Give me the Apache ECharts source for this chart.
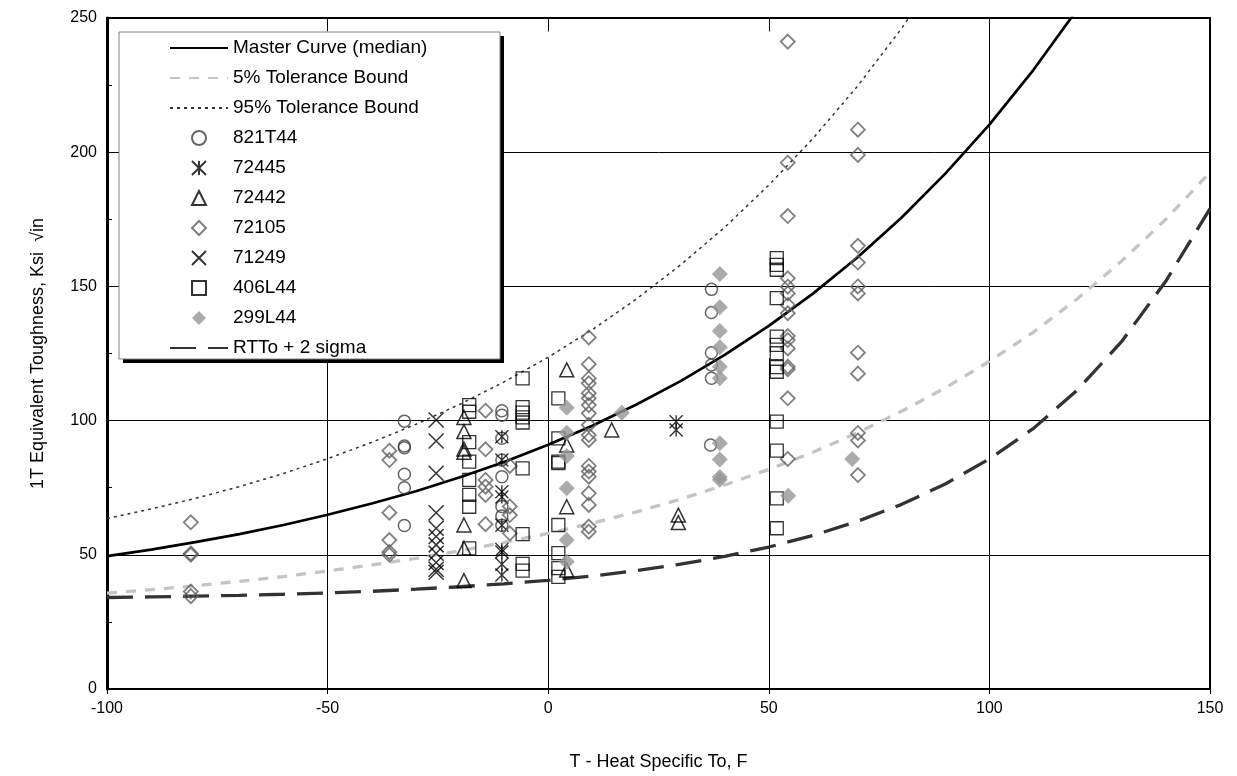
<!DOCTYPE html>
<html><head><meta charset="utf-8">
<script src="https://cdn.jsdelivr.net/npm/echarts@6/dist/echarts.min.js"></script>
<style>html,body{margin:0;padding:0;background:#fff}#c{width:1237px;height:776px}</style>
</head><body><div id="c"></div>
<script>
// ---- tick labels / axes ----
const xTicks = [-100, -50, 0, 50, 100, 150];
const yTicks = [0, 50, 100, 150, 200, 250];
// vertical grid lines: partly hidden ones (visible lower part + top stub) and a full-height one
const vGridPartialX = [-50, 0, 50];
const vGridFullX = [100];
const vGridTop = 123.3;

// ---- curves ----
const curveT = [-100,-90,-80,-70,-60,-50,-40,-30,-20,-10,0,10,20,30,40,50,60,70,80,90,100,110,120,130,140,150];
const masterK = [49.5,51.9,54.7,57.7,61.1,64.9,69.1,73.7,78.9,84.6,91.0,98.1,106.0,114.7,124.5,135.3,147.3,160.7,175.5,192.0,210.3,230.7,253.4];
const tol5K = [35.7,37.0,38.5,40.1,41.9,44.0,46.2,48.7,51.5,54.6,58.0,61.8,66.0,70.7,76.0,81.8,88.2,95.4,103.4,112.2,122.1,133.0,145.5,159.5,175.0,192.5];
const tol95K = [63.5,67.1,71.0,75.4,80.3,85.8,91.9,98.6,106.1,114.4,123.6,133.9,145.3,158.0,172.0,187.7,205.1,224.4,245.9,269.8];
const rtK = [34.1,34.3,34.6,34.9,35.3,35.8,36.4,37.2,38.1,39.2,40.5,42.1,44.1,46.5,49.4,52.9,57.2,62.4,68.7,76.4,85.7,97.1,111.5,129.5,152.0,179.0];

// ---- data sets [T, K] ----
const d821T44 = [
  [-32.6,99.8],[-32.6,90.5],[-32.6,89.9],[-32.6,80],[-32.6,75],[-32.6,60.9],
  [-10.5,103.7],[-10.5,102],[-10.5,93.4],[-10.5,85.3],[-10.5,79.1],[-10.5,68],[-10.5,64.5],[-10.5,61],
  [37,148.9],[37,140.3],[37,125.3],[37,120.7],[37,115.8],[36.8,90.9]
];
const d72445 = [
  [-10.5,94],[-10.5,85.3],[-10.5,73.5],[-10.5,71.5],[-10.5,61],[-10.5,52],[-10.5,51],[-10.5,46.5],[-10.5,42.5],
  [29,99.6],[29,96.5]
];
const d72442 = [
  [-19.1,101.2],[-19.1,95.9],[-19.1,89.4],[-19.1,88.2],[-19.1,61.1],[-19.1,52.4],[-19.1,40.4],
  [4.2,118.9],[4.2,90.9],[4.2,67.9],[4.2,44.3],
  [14.4,96.5],[29.5,64.8],[29.5,62]
];
const d72105 = [
  [-81,62.1],[-81,50.5],[-81,50],[-81,36.3],[-81,34.6],
  [-36,88.8],[-36,85.3],[-36,65.7],[-36,55.5],[-36,51],[-36,50],
  [-14.2,103.7],[-14.2,89.3],[-14.2,77.9],[-14.2,75.4],[-14.2,72.3],[-14.2,61.4],
  [-8.7,83.1],[-8.7,68],[-8.7,64.8],[-8.7,58],
  [9.2,131],[9.2,121],[9.2,115.7],[9.2,113.9],[9.2,110.2],[9.2,108.3],[9.2,105.8],[9.2,102.7],[9.2,98.4],
  [9.2,94.6],[9.2,92.8],[9.2,83.1],[9.2,81],[9.2,79.1],[9.2,72.9],[9.2,68.6],[9.2,60.5],[9.2,58.6],
  [54.3,241.2],[54.3,196.1],[54.3,176.2],[54.3,153],[54.3,149.9],[54.3,147.4],[54.3,143.1],[54.3,140],
  [54.3,131.5],[54.3,130],[54.3,126.9],[54.3,120.1],[54.3,119.1],[54.3,108.3],[54.3,85.7],
  [70.2,208.4],[70.2,199],[70.2,165.1],[70.2,158.9],[70.2,150],[70.2,147.4],[70.2,125.3],[70.2,117.5],
  [70.2,95.4],[70.2,92.6],[70.2,79.7]
];
const d71249 = [
  [-25.4,100.2],[-25.4,92.4],[-25.4,80.4],[-25.4,65.7],[-25.4,59.9],[-25.4,56.8],[-25.4,53.7],
  [-25.4,50.6],[-25.4,47.1],[-25.4,44.6],[-25.4,43.5]
];
const d406L44 = [
  [-17.9,105.8],[-17.9,103.3],[-17.9,92],[-17.9,84.7],[-17.9,77.9],[-17.9,72.3],[-17.9,67.9],[-17.9,52.4],
  [-5.8,115.7],[-5.8,105],[-5.8,103],[-5.8,101.2],[-5.8,99.3],[-5.8,82.2],[-5.8,57.7],[-5.8,46.6],[-5.8,44.1],
  [2.3,108.3],[2.3,93.4],[2.3,84.7],[2.3,84.2],[2.3,61.1],[2.3,50.6],[2.3,45],[2.3,41.8],
  [51.8,160.5],[51.8,158],[51.8,156.2],[51.8,145.6],[51.8,131.3],[51.8,128.2],[51.8,125.1],[51.8,119.9],
  [51.8,118.2],[51.8,99.6],[51.8,88.8],[51.8,71],[51.8,59.9]
];
const d299L44 = [
  [4.2,104.8],[4.2,95.5],[4.2,86.8],[4.2,74.8],[4.2,55.5],[4.2,47.4],
  [16.7,102.9],
  [38.9,154.6],[38.9,142.2],[38.9,133.4],[38.9,127.3],[38.9,120.1],[38.9,115.8],[38.9,91.6],[38.9,85.5],[38.9,79],[38.9,78],
  [54.4,72],[68.9,85.7]
];

const pair = (ks) => ks.map((k, i) => [curveT[i], k]);
const FONT = 'Liberation Sans, Arial, sans-serif';
const TXT = '#000';

function lineSeries(name, ks, color, width, type, extra) {
  return Object.assign({ name, type: 'line', data: pair(ks), showSymbol: false, symbol: 'none', clip: true,
    lineStyle: { color, width, type, cap: 'butt' }, itemStyle: { color }, z: 3, silent: true }, extra || {});
}
function scatter(name, data, symbol, size, stroke, bw, fill) {
  return { name, type: 'scatter', data, symbol, symbolSize: size, z: 4, silent: true, symbolKeepAspect: true,
    itemStyle: { color: fill || 'rgba(0,0,0,0)', borderColor: stroke, borderWidth: bw } };
}
const ASTER = 'path://M0,0L10,10M10,0L0,10M5,0L5,10';
const XMARK = 'path://M0,0L10,10M10,0L0,10';
const TRI = 'path://M5,0L10,10L0,10Z';
const DIA = 'path://M5,0L10,5L5,10L0,5Z';
const SQR = 'path://M0,0L10,0L10,10L0,10Z';

const noSym = { itemStyle: { color: 'rgba(0,0,0,0)', borderWidth: 0, opacity: 0 } };
const legendNames = ['Master Curve (median)', '5% Tolerance Bound', '95% Tolerance Bound', '821T44', '72445', '72442', '72105', '71249', '406L44', '299L44', 'RTTo + 2 sigma'];
const lineNames = ['Master Curve (median)', '5% Tolerance Bound', '95% Tolerance Bound', 'RTTo + 2 sigma'];

// grid-line segments built from the grid values
const yMin = yTicks[0], yMax = yTicks[yTicks.length - 1];
const vLines = [];
vGridPartialX.forEach(x => {
  vLines.push([{ coord: [x, yMin] }, { coord: [x, vGridTop] }]);
  vLines.push([{ coord: [x, 245] }, { coord: [x, yMax] }]);
});
vGridFullX.forEach(x => vLines.push([{ coord: [x, yMin] }, { coord: [x, yMax] }]));

const chart = echarts.init(document.getElementById('c'), null, { renderer: 'canvas' });
chart.setOption({
  animation: false,
  backgroundColor: '#fff',
  textStyle: { fontFamily: FONT },
  grid: { left: 107, right: 27, top: 18, bottom: 87, show: true, borderColor: '#000', borderWidth: 2, backgroundColor: '#fff' },
  xAxis: {
    type: 'value', min: xTicks[0], max: xTicks[xTicks.length - 1], interval: 50,
    name: 'T - Heat Specific To, F', nameLocation: 'middle', nameGap: 64,
    nameTextStyle: { fontSize: 18, color: TXT, fontFamily: FONT },
    axisLine: { show: true, onZero: false, lineStyle: { color: '#000', width: 2 } },
    axisTick: { show: true, inside: false, length: 5, lineStyle: { color: '#000' } },
    axisLabel: { fontSize: 16, color: TXT, fontFamily: FONT, margin: 12 },
    splitLine: { show: false }
  },
  yAxis: {
    type: 'value', min: yMin, max: yMax, interval: 50,
    name: '1T Equivalent Toughness, Ksi  \u221Ain', nameLocation: 'middle', nameGap: 60,
    nameTextStyle: { fontSize: 18, color: TXT, fontFamily: FONT },
    axisLine: { show: true, onZero: false, lineStyle: { color: '#000', width: 3 } },
    axisTick: { show: true, inside: true, length: 5, lineStyle: { color: '#000' } },
    minorTick: { show: true, splitNumber: 2, length: 5, lineStyle: { color: '#000' } },
    axisLabel: { fontSize: 16, color: TXT, fontFamily: FONT, margin: 10 },
    splitLine: { show: true, lineStyle: { color: '#000', width: 1 } }
  },
  legend: {
    orient: 'vertical', left: 169, top: 38, padding: 0, itemGap: 10,
    itemWidth: 58, itemHeight: 14, z: 7,
    textStyle: { fontSize: 19, lineHeight: 20, color: TXT, fontFamily: FONT },
    data: legendNames.map(n => lineNames.includes(n) ? Object.assign({ name: n }, noSym) : { name: n })
  },
  graphic: [
    { type: 'rect', z: 5, silent: true, shape: { x: 123, y: 36, width: 381, height: 327 }, style: { fill: '#000' } },
    { type: 'rect', z: 5, silent: true, shape: { x: 119, y: 32, width: 381, height: 327 }, style: { fill: '#fff', stroke: '#808080', lineWidth: 1 } }
  ],
  series: [
    lineSeries('Master Curve (median)', masterK, '#000', 2.7, 'solid', {
      markLine: { silent: true, symbol: 'none', label: { show: false }, animation: false, z: 1,
        lineStyle: { color: '#000', width: 1, type: 'solid' }, data: vLines }
    }),
    lineSeries('5% Tolerance Bound', tol5K, '#c4c4c4', 3.3, [10, 9]),
    lineSeries('95% Tolerance Bound', tol95K, '#333', 1.5, [3, 4]),
    scatter('821T44', d821T44, 'circle', 12, '#404040', 1.5),
    scatter('72445', d72445, ASTER, 13, '#000', 1.4),
    scatter('72442', d72442, TRI, 14, '#000', 1.5),
    scatter('72105', d72105, DIA, 14, '#606060', 1.8),
    scatter('71249', d71249, XMARK, 15, '#000', 1.5),
    scatter('406L44', d406L44, SQR, 13, '#000', 1.3),
    scatter('299L44', d299L44, DIA, 16, '#969696', 0, '#969696'),
    lineSeries('RTTo + 2 sigma', rtK, '#333', 3.3, [26, 12])
  ]
});
</script>
</body></html>
